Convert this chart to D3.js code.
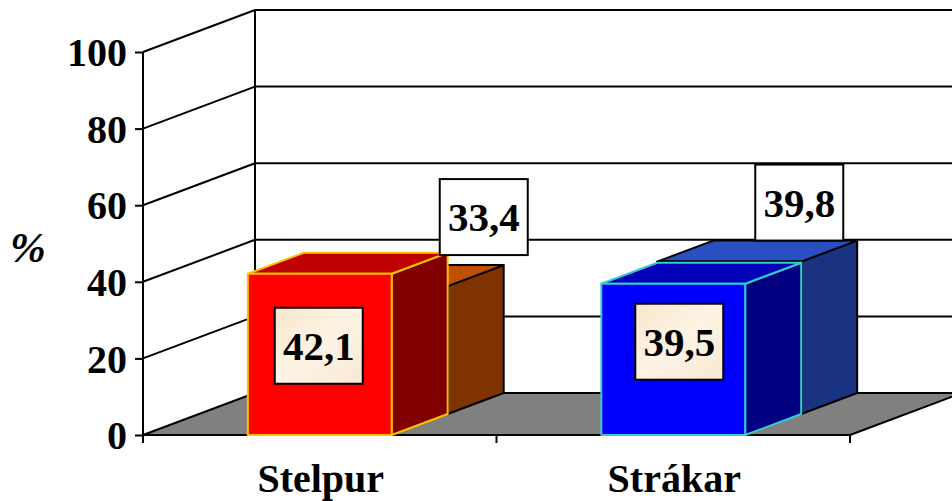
<!DOCTYPE html>
<html>
<head>
<meta charset="utf-8">
<script src="https://cdn.jsdelivr.net/npm/d3@7"></script>
<style>
  html, body { margin: 0; padding: 0; background: #fff; }
  svg { display: block; }
  text { font-family: "Liberation Serif", "Times New Roman", serif; font-weight: bold; fill: #000; }
</style>
</head>
<body>
<svg id="chart" width="952" height="501"></svg>
<script>
// ---- data ----
const categories = ["Stelpur", "Strákar"];
const frontValues = [42.1, 39.5];   // front row of columns
const backValues  = [33.4, 39.8];   // back row of columns
const yTicks = [0, 20, 40, 60, 80, 100];
const yLabel = "%";

// ---- layout / style (not data) ----
const W = 952, H = 501;
const plot = { left: 143, right: 850, top: 52, bottom: 435 };
const depth = { dx: 112, dy: -42 };
const barFrac = 0.407;
const series = [
  { values: frontValues, d0: 0.0, d1: 0.5 },
  { values: backValues, d0: 0.5, d1: 1.0 }
];
const catColors = [
  [ { front: "#FF0000", top: "#BF0000", side: "#800000", stroke: "#FFC000" },
    { front: "#0000FF", top: "#0000B8", side: "#000080", stroke: "#33CCCC" } ],
  [ { front: "#C05000", top: "#C05000", side: "#7F3300", stroke: "#000000" },
    { front: "#2850C0", top: "#2850C0", side: "#1A3380", stroke: "#000000" } ]
];
// label nudges (hand-placed labels in the original)
const labelNudge = [
  [ [-1, 72], [6, 58] ],
  [ [52, -48], [14, -38] ]
];

const svg = d3.select("#chart");

const x = d3.scaleBand().domain(categories).range([plot.left, plot.right]).padding(0);
const y = d3.scaleLinear().domain([0, 100]).range([plot.bottom, plot.top]);

const line = d3.line();
const P = (px, py, d) => [px + depth.dx * d, py + depth.dy * d];

// ---- walls ----
const g = svg.append("g");
const bx = plot.left + depth.dx;
yTicks.forEach(t => {
  const yy = y(t) + depth.dy;
  g.append("line").attr("x1", bx).attr("x2", W + 5).attr("y1", yy).attr("y2", yy)
    .attr("stroke", "#000").attr("stroke-width", 2);
  if (t > 0) {
    g.append("line").attr("x1", plot.left).attr("y1", y(t))
      .attr("x2", bx).attr("y2", yy).attr("stroke", "#000").attr("stroke-width", 2);
  }
});
g.append("line").attr("x1", bx).attr("x2", bx)
  .attr("y1", y(100) + depth.dy).attr("y2", y(0) + depth.dy)
  .attr("stroke", "#000").attr("stroke-width", 2);

// ---- floor ----
const floorPts = [
  [plot.left, y(0)], [plot.right, y(0)],
  P(plot.right, y(0), 1), P(plot.left, y(0), 1)
];
g.append("path").attr("d", line(floorPts) + "Z")
  .attr("fill", "#808080").attr("stroke", "#000").attr("stroke-width", 2)
  .attr("stroke-linejoin", "round");

// ---- axis ----
const axisG = svg.append("g").attr("transform", `translate(${plot.left},0)`);
const yAxis = d3.axisLeft(y).tickValues(yTicks).tickSize(8).tickPadding(8).tickFormat(d3.format("d"));
axisG.call(yAxis);
axisG.select(".domain").remove();
axisG.selectAll(".tick line").attr("stroke", "#000").attr("stroke-width", 2);
axisG.selectAll(".tick text")
  .attr("font-family", "Liberation Serif, serif").attr("font-weight", "bold")
  .attr("font-size", 40).attr("fill", "#000").attr("dy", "0.34em");
svg.append("line").attr("x1", plot.left).attr("x2", plot.left)
  .attr("y1", y(100)).attr("y2", y(0) + 8).attr("stroke", "#000").attr("stroke-width", 2);

// x axis ticks (category boundaries)
const xb = [plot.left, ...categories.slice(1).map(c => x(c)), plot.right];
xb.forEach(xx => {
  svg.append("line").attr("x1", xx).attr("x2", xx).attr("y1", y(0)).attr("y2", y(0) + 8)
    .attr("stroke", "#000").attr("stroke-width", 2);
});
svg.append("line").attr("x1", plot.left).attr("x2", plot.right)
  .attr("y1", y(0)).attr("y2", y(0)).attr("stroke", "#000").attr("stroke-width", 2);

// category labels
svg.selectAll("text.cat").data(categories).join("text")
  .attr("class", "cat")
  .attr("x", d => x(d) + x.bandwidth() / 2 + 1)
  .attr("y", 492)
  .attr("text-anchor", "middle")
  .attr("font-size", 40)
  .text(d => d);

// y title
svg.append("text").attr("x", 28).attr("y", 262).attr("text-anchor", "middle")
  .attr("font-size", 43).attr("font-style", "italic").text(yLabel);

// ---- bars ----
const barsG = svg.append("g");
function drawBar(cat, val, s, col) {
  const bw = x.bandwidth() * barFrac;
  const cx = x(cat) + x.bandwidth() / 2;
  const x0 = cx - bw / 2, x1 = cx + bw / 2;
  const yt = y(val), yb = y(0);
  const front = [P(x0, yt, s.d0), P(x1, yt, s.d0), P(x1, yb, s.d0), P(x0, yb, s.d0)];
  const top = [P(x0, yt, s.d0), P(x1, yt, s.d0), P(x1, yt, s.d1), P(x0, yt, s.d1)];
  const side = [P(x1, yt, s.d0), P(x1, yt, s.d1), P(x1, yb, s.d1), P(x1, yb, s.d0)];
  [[side, col.side], [top, col.top], [front, col.front]].forEach(([pts, fill]) => {
    barsG.append("path").attr("d", line(pts) + "Z").attr("fill", fill)
      .attr("stroke", col.stroke).attr("stroke-width", 2).attr("stroke-linejoin", "round");
  });
}
// back row first, then front row
[1, 0].forEach(si => {
  categories.forEach((c, ci) => drawBar(c, series[si].values[ci], series[si], catColors[si][ci]));
});

// ---- value labels ----
const defs = svg.append("defs");
const grad = defs.append("linearGradient").attr("id", "cream")
  .attr("x1", 0).attr("y1", 0).attr("x2", 1).attr("y2", 1);
grad.append("stop").attr("offset", 0).attr("stop-color", "#F9E6CC");
grad.append("stop").attr("offset", 0.5).attr("stop-color", "#FDF3E4");
grad.append("stop").attr("offset", 1).attr("stop-color", "#F8E8D2");

const fmt = v => d3.format(".1f")(v).replace(".", ",");
const lblG = svg.append("g");
[0, 1].forEach(si => {
  const s = series[si];
  categories.forEach((c, ci) => {
    const v = s.values[ci];
    const cx = x(c) + x.bandwidth() / 2;
    const d = si === 0 ? s.d0 : s.d1;
    const [ax, ay] = P(cx, y(v), d);
    const [nx, ny] = labelNudge[si][ci];
    const lx = ax + nx, ly = ay + ny;
    const bwid = 88, bh = 76;
    const isFront = si === 0;
    lblG.append("rect").attr("x", lx - bwid / 2).attr("y", ly - bh / 2)
      .attr("width", bwid).attr("height", bh)
      .attr("fill", isFront ? "url(#cream)" : "#fff")
      .attr("stroke", "#000").attr("stroke-width", 2);
    lblG.append("text").attr("x", lx).attr("y", ly + 14)
      .attr("text-anchor", "middle").attr("font-size", 41).text(fmt(v));
  });
});
</script>
</body>
</html>
